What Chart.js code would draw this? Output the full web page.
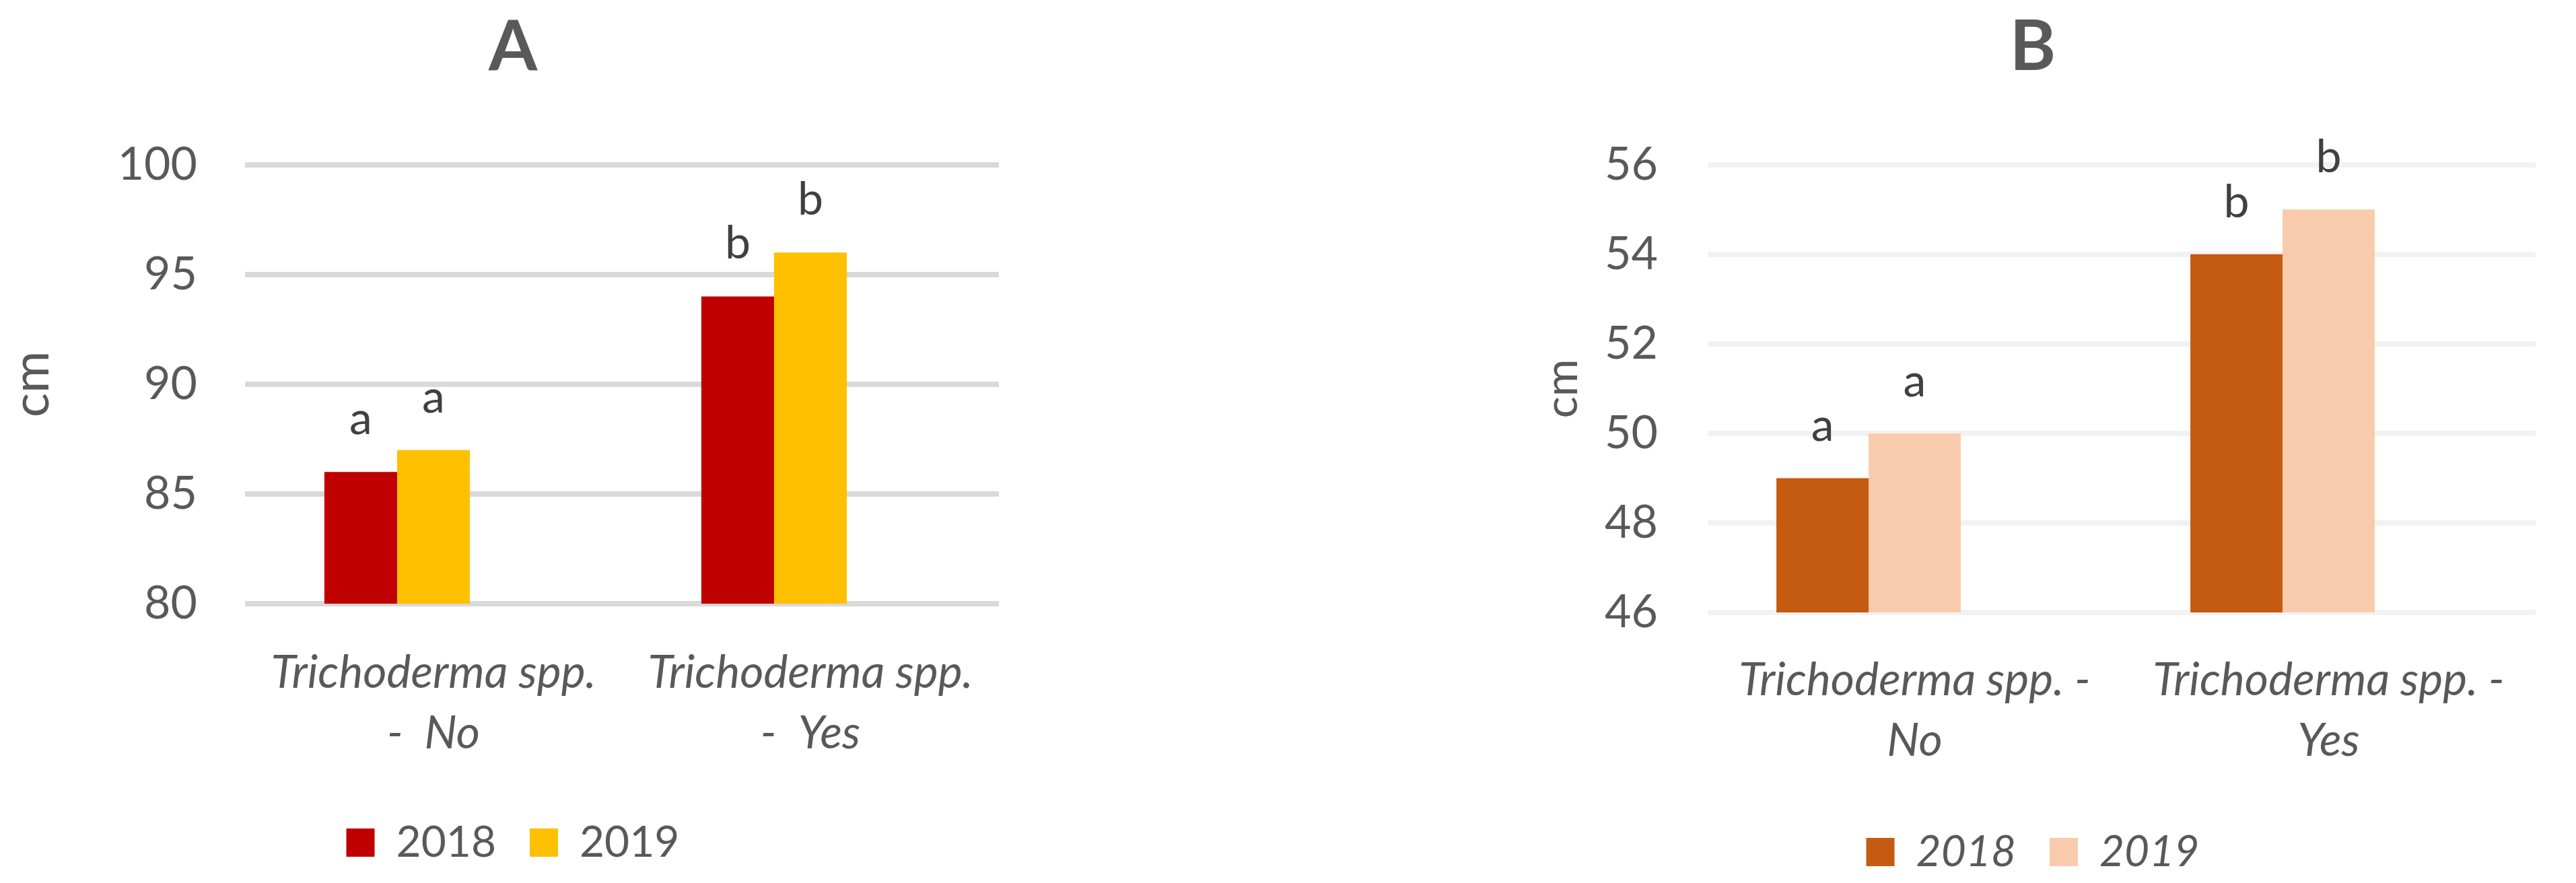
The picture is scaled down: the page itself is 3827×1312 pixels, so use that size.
<!DOCTYPE html>
<html>
<head>
<meta charset="utf-8">
<script src="https://cdn.jsdelivr.net/npm/chart.js@4.4.1/dist/chart.umd.min.js"></script>
<style>
  html, body { margin: 0; padding: 0; background: #fff; }
  body { width: 3827px; height: 1312px; position: relative; overflow: hidden; }
  canvas { position: absolute; top: 0; }
  #chartA { left: 0; }
  #chartB { left: 2223px; }
</style>
</head>
<body>
<canvas id="chartA" width="1550" height="1312"></canvas>
<canvas id="chartB" width="1604" height="1312"></canvas>
<script>
// --- data
const years = ['2018', '2019'];

const categoriesA = [['Trichoderma spp.', '-  No'], ['Trichoderma spp.', '-  Yes']];
const heightA2018 = [86, 94];
const heightA2019 = [87, 96];
const lettersA2018 = ['a', 'b'];
const lettersA2019 = ['a', 'b'];
const ticksA = { min: 80, max: 100, step: 5 };

const categoriesB = [['Trichoderma spp. -', 'No'], ['Trichoderma spp. -', 'Yes']];
const heightB2018 = [49, 54];
const heightB2019 = [50, 55];
const lettersB2018 = ['a', 'b'];
const lettersB2019 = ['a', 'b'];
const ticksB = { min: 46, max: 56, step: 2 };

const textGrey = '#595959';

// letters above the bars (significance groups)
const lettersPlugin = {
    id: 'letters',
    afterDatasetsDraw(chart, args, opts) {
        const ctx = chart.ctx;
        ctx.save();
        ctx.font = 'normal 68px Lato';
        ctx.fillStyle = '#404040';
        ctx.textAlign = 'center';
        ctx.textBaseline = 'alphabetic';
        opts.letters.forEach(function (list, ds) {
            const meta = chart.getDatasetMeta(ds);
            meta.data.forEach(function (bar, i) {
                ctx.fillText(list[i], bar.x, bar.y - opts.gap);
            });
        });
        ctx.restore();
    }
};

function makeChart(id, cfg) {
    return new Chart(document.getElementById(id), {
        type: 'bar',
        data: {
            labels: cfg.labels,
            datasets: [
                { label: years[0], data: cfg.s1, backgroundColor: cfg.colors[0], borderWidth: 0 },
                { label: years[1], data: cfg.s2, backgroundColor: cfg.colors[1], borderWidth: 0 },
                // empty third slot, like the Excel original
                { label: 'spacer', data: cfg.labels.map(() => null), backgroundColor: 'rgba(0,0,0,0)', borderWidth: 0 }
            ]
        },
        options: {
            responsive: false,
            animation: false,
            devicePixelRatio: 1,
            categoryPercentage: cfg.catPct,
            barPercentage: 1,
            layout: { padding: cfg.pad },
            plugins: {
                tooltip: { enabled: false },
                title: {
                    display: true, text: cfg.title, color: textGrey,
                    font: { family: 'Lato', size: 104, weight: 'bold', lineHeight: 1.2 },
                    padding: { top: 8, bottom: 112 }
                },
                legend: {
                    position: 'bottom',
                    labels: {
                        color: textGrey, boxWidth: 42, boxHeight: 42, padding: 50,
                        font: { family: 'Lato', size: 64, style: cfg.legendStyle },
                        filter: item => item.text !== 'spacer'
                    }
                },
                letters: { letters: cfg.letters, gap: cfg.gap }
            },
            scales: {
                x: {
                    grid: { display: false, drawTicks: false, tickLength: 0 },
                    border: { display: false },
                    ticks: {
                        color: textGrey, padding: cfg.xPad, maxRotation: 0, autoSkip: false,
                        font: { family: 'Lato', size: 68, style: 'italic', lineHeight: 1.324 }
                    },
                    afterFit: s => { s.height = cfg.xHeight; }
                },
                y: {
                    min: cfg.ticks.min, max: cfg.ticks.max,
                    grid: { color: cfg.gridColor, lineWidth: 8, drawTicks: false, tickLength: 0 },
                    border: { display: false },
                    ticks: {
                        stepSize: cfg.ticks.step, color: textGrey, padding: cfg.yPad,
                        font: { family: 'Lato', size: 68 }
                    },
                    title: {
                        display: true, text: 'cm', color: textGrey,
                        font: { family: 'Lato', size: cfg.cmSize, lineHeight: 1.2 },
                        padding: { top: cfg.cmPad, bottom: 0 }
                    },
                    afterFit: s => { s.width = cfg.yWidth; }
                }
            }
        },
        plugins: [lettersPlugin]
    });
}

makeChart('chartA', {
    title: 'A',
    labels: categoriesA,
    s1: heightA2018, s2: heightA2019,
    letters: [lettersA2018, lettersA2019],
    colors: ['#C00000', '#FFC000'],
    ticks: ticksA,
    gridColor: '#D9D9D9',
    catPct: 0.579,
    pad: { left: 40, right: 66, top: 0, bottom: 18 },
    yWidth: 324, yPad: 71,
    xHeight: 273, xPad: 58,
    cmSize: 76, cmPad: -38,
    gap: 56,
    legendStyle: 'normal'
});

makeChart('chartB', {
    title: 'B',
    labels: categoriesB,
    s1: heightB2018, s2: heightB2019,
    letters: [lettersB2018, lettersB2019],
    colors: ['#C55A11', '#F8CBAD'],
    ticks: ticksB,
    gridColor: '#F2F2F2',
    catPct: 0.668,
    pad: { left: 50, right: 60, top: 0, bottom: 4 },
    yWidth: 264, yPad: 74,
    xHeight: 274, xPad: 56,
    cmSize: 68, cmPad: 7,
    gap: 55,
    legendStyle: 'italic'
});
</script>
</body>
</html>
